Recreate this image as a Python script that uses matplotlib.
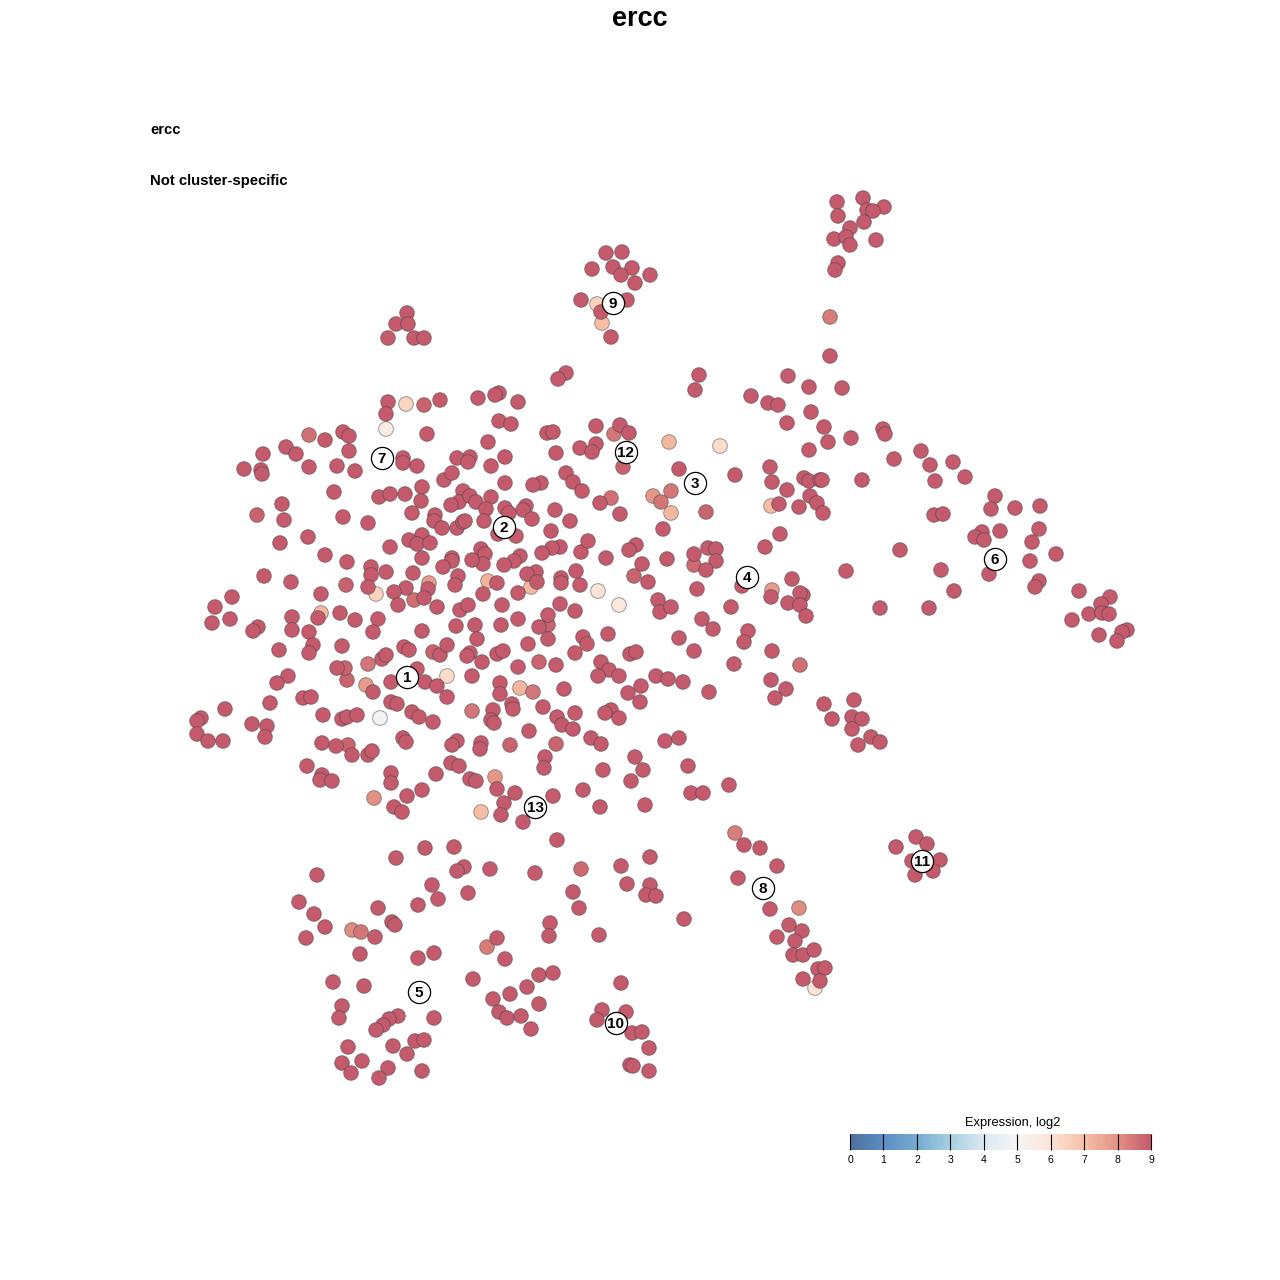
import matplotlib
matplotlib.use("Agg")
import matplotlib.pyplot as plt
import numpy as np
from matplotlib.cm import ScalarMappable
from matplotlib.colors import LinearSegmentedColormap, Normalize

plt.rcParams["font.family"] = ["Liberation Sans", "DejaVu Sans"]

title = "ercc"
gene = "ercc"
note = "Not cluster-specific"
legend_title = "Expression, log2"
legend_ticks = [0, 1, 2, 3, 4, 5, 6, 7, 8, 9]
legend_colors = ["#4f6f9a", "#5b8fc4", "#75acd0", "#a6cfe2", "#dbe8f0",
                 "#f5f5f5", "#fde3d5", "#f6c0a6", "#e29383", "#c45a6b"]

# cells at the top of the scale, embedding coordinates
high_cells = [
    (837,202),(863,198),(884,207),(867,210),(873,211),(838,216),(864,222),(850,228),(834,239),(846,237),
    (850,245),(876,240),(838,263),(835,270),(830,356),(606,253),(622,252),(592,269),(613,267),(632,268),
    (621,275),(650,275),(635,283),(581,300),(627,300),(601,312),(611,337),(407,313),(396,324),(408,324),
    (388,338),(414,338),(424,338),(566,373),(558,379),(699,375),(695,390),(788,376),(809,387),(842,388),
    (751,396),(768,403),(778,405),(811,412),(787,423),(824,427),(828,442),(809,450),(851,438),(883,429),
    (885,434),(894,459),(921,451),(930,465),(953,462),(965,477),(935,481),(995,496),(991,509),(1015,508),
    (1040,506),(934,515),(943,514),(1039,529),(982,532),(1000,531),(975,537),(984,540),(1032,542),(1056,554),
    (1030,561),(900,550),(941,570),(989,574),(1039,581),(1035,587),(954,591),(929,608),(880,608),(846,571),
    (1079,591),(1110,597),(1101,604),(1089,614),(1102,613),(1072,620),(1109,614),(1127,630),(1122,632),(1099,635),
    (1117,641),(499,393),(495,395),(478,398),(518,402),(440,400),(388,402),(386,414),(499,421),
    (511,424),(596,426),(620,425),(629,433),(547,433),(553,432),(488,442),(427,434),(343,432),(349,436),
    (325,440),(286,447),(296,454),(263,454),(349,451),(580,448),(596,444),(592,452),(556,453),(470,457),
    (457,458),(468,462),(505,457),(491,466),(403,458),(403,463),(417,466),(337,466),(355,471),(309,467),
    (244,469),(261,470),(262,474),(679,469),(735,475),(770,467),(772,482),(804,478),(809,481),
    (820,480),(822,480),(862,480),(566,473),(573,482),(582,491),(541,483),(533,485),(505,483),(787,490),
    (810,496),(817,503),(823,513),(799,507),(779,504),(600,503),(620,514),(663,529),(334,492),
    (379,497),(390,494),(405,494),(422,487),(421,501),(444,480),(452,473),(463,491),(459,502),(470,496),(476,502),(451,505),
    (491,497),(486,509),(505,508),(509,513),(526,506),(523,510),(555,510),(570,521),(412,513),(435,515),
    (434,521),(442,528),(457,528),(463,522),(465,521),(484,521),(532,519),(282,504),(284,520),(343,517),
    (368,523),(308,537),(280,543),(422,535),(409,540),(417,544),(430,543),(390,547),(551,531),
    (516,536),(498,534),(636,545),(629,550),(780,534),(765,547),(708,548),(716,549),(694,554),
    (716,561),(706,570),(560,547),(552,548),(542,553),(581,552),(588,541),(606,558),(642,564),(667,559),(325,555),(347,562),
    (481,549),(485,554),(483,564),(520,556),(514,561),(504,565),(452,558),(452,561),(443,567),(422,558),(371,567),(371,575),
    (386,572),(472,560),(536,572),(527,574),(537,582),(576,571),(561,578),(264,576),(291,582),
    (458,576),(413,573),(406,588),(394,592),(368,587),(321,594),(428,589),(424,598),(398,605),(455,585),
    (497,583),(483,594),(518,593),(561,583),(580,585),(648,582),(742,586),(771,597),(792,579),
    (803,595),(800,593),(788,603),(800,605),(806,616),(658,600),(660,612),(671,607),(731,607),(702,619),
    (713,629),(697,589),(437,607),(460,610),(468,605),(502,605),(560,604),(548,615),(575,611),(232,597),
    (215,607),(212,623),(230,619),(258,627),(253,631),(292,617),(292,630),(318,618),(340,613),(355,620),
    (378,619),(373,632),(309,632),(456,626),(475,625),(501,625),(518,619),(539,627),(422,631),
    (548,639),(528,644),(608,634),(583,637),(587,644),(679,638),(748,631),(744,642),(279,650),(313,645),
    (309,653),(342,646),(404,647),(409,650),(470,653),(467,656),(477,639),(440,655),(447,645),(497,654),
    (503,651),(575,653),(630,654),(636,652),(694,651),(772,651),(382,659),(386,655),(337,668),
    (417,669),(482,662),(518,667),(556,665),(601,662),(609,670),(598,676),(619,676),(656,676),(668,679),
    (683,682),(734,664),(288,676),(277,683),(391,682),(425,682),(437,686),(472,676),(500,683),
    (500,694),(564,689),(628,693),(641,686),(771,680),(786,689),(775,698),(709,692),(270,703),(303,698),(311,697),
    (373,692),(391,702),(397,704),(447,697),(512,704),(513,709),(543,707),(493,710),(640,702),(824,704),
    (854,700),(225,709),(201,718),(197,721),(197,734),(208,741),(223,741),(252,724),(267,726),(265,737),
    (323,715),(342,719),(347,717),(357,715),(412,712),(419,717),(433,722),(491,720),(494,723),(557,717),
    (575,713),(611,710),(605,713),(619,718),(562,725),(573,729),(529,731),(852,717),(862,719),(832,719),
    (852,729),(871,737),(880,742),(858,745),(403,738),(406,742),(322,743),(336,746),(352,755),
    (368,755),(372,751),(457,741),(452,745),(481,743),(480,749),(591,738),(601,744),(665,741),
    (679,738),(545,757),(544,768),(635,757),(688,766),(307,766),(322,775),(320,780),(332,781),
    (391,773),(391,783),(436,774),(451,763),(459,766),(470,779),(476,781),(497,789),(603,770),(643,770),
    (631,781),(729,785),(691,793),(703,793),(422,790),(407,796),(394,807),(402,812),(515,793),(553,796),
    (583,790),(504,803),(501,815),(523,822),(600,807),(645,805),(744,845),(760,848),(777,866),(738,878),
    (557,840),(425,848),(454,847),(396,858),(464,867),(457,871),(490,869),(535,873),(621,866),(650,857),
    (317,875),(432,885),(627,884),(650,885),(646,895),(656,896),(573,892),(299,902),(314,914),(325,927),
    (306,938),(378,908),(418,905),(438,899),(468,893),(579,908),(684,919),(392,922),(395,925),(375,937),
    (550,923),(549,936),(599,935),(497,938),(360,954),(418,958),(434,953),(505,959),(473,979),(539,975),
    (553,973),(527,987),(333,982),(364,986),(510,994),(539,1004),(493,999),(499,1012),(507,1018),(521,1016),
    (531,1029),(342,1006),(339,1018),(434,1018),(398,1016),(389,1019),(383,1025),(376,1030),(621,983),(602,1010),
    (626,1012),(597,1020),(632,1033),(642,1032),(649,1048),(348,1047),(393,1046),(415,1041),(424,1040),(407,1054),
    (362,1061),(342,1063),(388,1068),(351,1073),(379,1078),(422,1071),(630,1065),(633,1066),(649,1071),(770,909),
    (789,925),(802,931),(777,937),(795,941),(793,955),(803,955),(814,950),(818,969),(825,968),(820,981),
    (803,979),(916,837),(927,844),(896,847),(912,861),(940,860),(915,875),(933,871),(922,862),
]

# cells with lower expression: x, y, log2 expression
low_x = [830, 597, 602, 406, 386, 309, 614, 669, 720, 771, 653, 661, 671, 671, 611,
         429, 376, 414, 488, 531, 772, 598, 619, 321, 368, 539, 800, 447, 520, 533,
         366, 472, 380, 495, 374, 481, 735, 581, 352, 361, 487, 799, 815,
         424, 623, 706, 694, 634, 257, 346, 347, 345, 348, 510, 433, 556, 548]
low_y = [317, 304, 323, 404, 429, 435, 434, 442, 446, 506, 496, 502, 491, 513, 498,
         583, 594, 600, 581, 587, 590, 591, 605, 613, 664, 662, 665, 676, 688, 692,
         685, 711, 718, 777, 798, 812, 833, 869, 930, 932, 947, 908, 988,
         405, 467, 512, 565, 576, 515, 585, 680, 668, 745, 745, 652, 744, 625]
low_expr = [8.4, 6.5, 7.0, 6.4, 5.5, 8.6, 8.5, 7.2, 6.2, 7.0, 7.9, 8.5, 8.5, 7.2, 8.6,
            7.8, 6.5, 8.6, 7.3, 7.2, 7.8, 6.0, 5.8, 7.2, 8.5, 8.8, 8.6, 6.2, 7.2, 8.5,
            7.8, 8.5, 4.8, 7.9, 8.0, 7.0, 8.4, 8.7, 8.1, 8.5, 8.4, 8.1, 6.0,
            8.85, 8.85, 8.8, 8.7, 8.8, 8.8, 8.85, 8.8, 8.8, 8.8, 8.8, 8.8, 8.8, 8.8]

cluster_ids = [1, 2, 3, 4, 5, 6, 7, 8, 9, 10, 11, 12, 13]
cluster_x = [407, 504, 695, 747, 419, 995, 382, 763, 613, 616, 922, 626, 535]
cluster_y = [677, 527, 483, 577, 992, 559, 458, 888, 303, 1023, 861, 452, 807]


def main():
    fig = plt.figure(figsize=(12.8, 12.8), dpi=100)
    ax = fig.add_axes([0, 0, 1, 1])
    ax.set_xlim(0, 1280)
    ax.set_ylim(1280, 0)
    ax.axis("off")

    cmap = LinearSegmentedColormap.from_list("expr", legend_colors)
    norm = Normalize(0, 9)

    high = np.array(high_cells)
    edge = (0.25, 0.25, 0.25, 0.5)
    ax.scatter(low_x, low_y, c=low_expr, cmap=cmap, norm=norm,
               s=112, edgecolors=edge, linewidths=0.7, zorder=2)
    ax.scatter(high[:, 0], high[:, 1], c=np.full(len(high), 9.0), cmap=cmap, norm=norm,
               s=112, edgecolors=edge, linewidths=0.7, zorder=2)

    ax.scatter(cluster_x, cluster_y, s=255, c="white", edgecolors="black", linewidths=0.9, zorder=3)
    for cid, cx, cy in zip(cluster_ids, cluster_x, cluster_y):
        ax.annotate(str(cid), (cx, cy), xytext=(0, -0.6), textcoords="offset points",
                    ha="center", va="center", fontsize=11, fontweight="bold", zorder=4)

    ax.text(640, 19, title, ha="center", va="center", fontsize=19.5, fontweight="bold")
    ax.text(150, 130, gene, ha="left", va="center", fontsize=10.6, fontweight="bold")
    ax.text(150, 181, note, ha="left", va="center", fontsize=10.7, fontweight="bold")

    # legend bar
    cax = fig.add_axes([850 / 1280, 1 - 1150 / 1280, 301 / 1280, 16 / 1280])
    cb = fig.colorbar(ScalarMappable(norm=norm, cmap=cmap), cax=cax,
                      orientation="horizontal", ticks=legend_ticks)
    cb.outline.set_visible(False)
    cb.ax.tick_params(direction="in", length=11.5, width=0.8, color="black",
                      labelsize=7.5, pad=3.8)
    ax.text(1013, 1123, legend_title, ha="center", va="center", fontsize=9.3)

    fig.savefig("out.png", dpi=100, facecolor="white")


if __name__ == "__main__":
    main()
